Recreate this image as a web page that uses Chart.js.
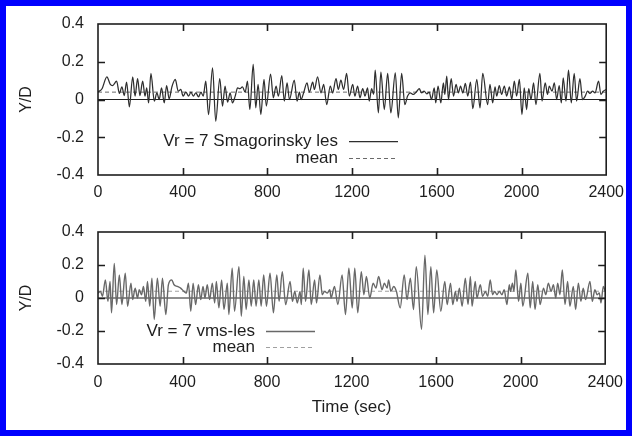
<!DOCTYPE html>
<html>
<head>
<meta charset="utf-8">
<script src="https://cdn.jsdelivr.net/npm/chart.js@4/dist/chart.umd.min.js"></script>
<style>
  html, body { margin: 0; padding: 0; background: #fff; }
  #frame { position: absolute; left: 0; top: 0; width: 632px; height: 436px;
           box-sizing: border-box; border: 6px solid #0000ff; background: #fff; }
  canvas { position: absolute; left: 0; }
</style>
</head>
<body>
<div id="frame"></div>
<canvas id="lesChart" width="632" height="205" style="top:0"></canvas>
<canvas id="vmsChart" width="632" height="231" style="top:205px"></canvas>
<script>
// Cross-flow displacement Y/D of the cylinder, Vr = 7, Smagorinsky LES
const timeLes = [0,19,42,58,69,88,101,113,124,135,148,164,175,187,198,211,222,230,239,250,266,278,289,300,313,324,336,349,365,379,391,402,415,428,439,450,462,475,486,497,509,522,541,556,575,588,600,612,624,635,648,659,670,682,695,706,717,733,745,756,769,784,795,815,828,841,852,868,880,893,904,927,940,951,959,971,987,998,1014,1022,1037,1053,1066,1080,1097,1108,1124,1135,1147,1160,1174,1187,1203,1213,1226,1237,1250,1261,1273,1281,1292,1302,1309,1324,1336,1352,1368,1383,1404,1418,1434,1449,1462,1474,1490,1506,1517,1528,1540,1553,1564,1575,1588,1595,1606,1619,1631,1638,1647,1655,1668,1679,1691,1702,1712,1723,1735,1746,1759,1770,1789,1804,1817,1840,1851,1864,1875,1883,1895,1906,1919,1930,1943,1954,1966,1977,1990,2002,2013,2024,2034,2045,2057,2068,2087,2097,2112,2123,2131,2144,2155,2166,2178,2188,2197,2210,2222,2235,2249,2260,2276,2288,2301,2312,2323,2336,2347,2364,2375,2386,2400];
const yLes = [0.04,0.057,0.120,0.080,0.074,0.097,0.032,0.067,0.021,0.092,-0.039,0.120,0.018,0.110,0.021,0.097,0.018,0.062,-0.018,0.138,-0.009,0.035,0.000,0.062,-0.018,0.074,0.004,0.067,0.106,0.044,0.053,0.018,0.039,0.018,0.039,0.018,0.035,0.014,0.039,0.018,0.097,-0.080,0.168,-0.115,0.110,-0.035,0.071,-0.014,0.035,-0.018,0.018,0.062,0.057,0.067,0.039,0.097,-0.053,0.186,-0.044,0.080,-0.080,0.106,-0.035,0.135,0.009,0.071,0.018,0.127,-0.009,0.088,0.000,0.102,-0.009,0.039,0.000,0.035,0.088,0.039,0.092,0.053,0.120,0.035,0.080,-0.027,0.071,0.035,0.110,0.053,0.102,0.053,0.138,0.018,0.080,0.018,0.071,0.009,0.057,0.018,0.062,-0.009,0.057,0.027,0.155,-0.071,0.145,-0.053,0.138,-0.071,0.141,-0.097,0.138,-0.027,0.018,0.035,0.027,0.044,0.057,0.035,0.044,0.030,0.039,0.000,0.062,-0.018,0.071,-0.018,0.088,0.027,0.124,0.000,0.110,0.018,0.080,0.035,0.071,0.035,0.085,0.018,0.092,-0.049,0.106,-0.044,0.138,-0.027,0.080,-0.018,0.067,0.018,0.074,0.027,0.071,0.018,0.067,0.000,0.097,0.018,0.106,-0.080,0.062,-0.053,0.057,0.000,0.088,-0.027,0.138,-0.009,0.088,0.027,0.071,0.044,0.088,0.000,0.074,-0.018,0.115,-0.009,0.155,-0.018,0.138,-0.009,0.110,0.000,0.018,0.044,0.032,0.044,0.035,0.097,0.027,0.044,0.053];
const meanLes = 0.039;

// Same quantity, Vr = 7, variational multiscale LES
const timeVms = [0,12,21,35,47,57,64,77,88,101,113,129,140,156,164,176,187,195,206,215,226,234,245,255,266,281,294,305,321,333,349,360,376,391,407,418,428,439,450,462,475,486,497,506,517,528,541,552,560,572,585,596,612,619,635,646,667,678,690,701,714,725,737,748,761,772,784,797,814,830,846,857,872,888,909,920,931,943,956,962,971,982,998,1009,1025,1034,1050,1061,1072,1085,1097,1103,1119,1135,1155,1171,1187,1203,1215,1229,1246,1258,1270,1286,1302,1315,1328,1344,1355,1368,1375,1386,1399,1412,1430,1449,1462,1478,1493,1506,1531,1547,1561,1575,1588,1603,1622,1641,1652,1668,1679,1691,1699,1710,1723,1738,1751,1762,1770,1785,1793,1809,1820,1833,1844,1856,1867,1877,1888,1899,1911,1922,1935,1946,1952,1961,1968,1977,1990,2001,2010,2034,2045,2057,2068,2081,2092,2108,2119,2131,2144,2155,2166,2175,2186,2197,2210,2222,2233,2249,2260,2273,2285,2296,2307,2328,2339,2351,2362,2372,2380,2391,2400];
const yVms = [0.03,0.04,0.01,0.11,-0.02,0.10,-0.09,0.21,-0.04,0.14,-0.04,0.15,-0.05,0.09,-0.01,0.06,0.00,0.05,0.02,0.07,-0.02,0.10,-0.05,0.12,-0.13,0.12,-0.05,0.12,-0.10,0.08,0.11,0.08,0.07,0.06,0.04,0.03,0.09,-0.08,0.09,-0.04,0.08,-0.01,0.07,0.00,0.08,-0.01,0.09,-0.03,0.10,-0.06,0.11,-0.07,0.09,-0.10,0.18,-0.08,0.19,-0.11,0.13,-0.07,0.11,-0.05,0.11,-0.05,0.11,-0.05,0.14,-0.05,0.15,-0.09,0.14,-0.02,0.16,-0.04,0.10,-0.02,0.04,-0.03,0.04,-0.04,0.18,-0.02,0.17,-0.04,0.11,-0.03,0.14,0.02,0.04,0.03,0.05,0.00,0.07,-0.04,0.14,-0.10,0.18,-0.06,0.18,-0.09,0.16,0.02,0.13,0.00,0.09,0.06,0.13,0.05,0.09,0.06,0.11,0.04,0.07,0.04,-0.06,0.14,-0.01,0.12,-0.07,0.19,-0.19,0.26,-0.10,0.19,-0.09,0.17,-0.08,0.10,-0.04,0.09,-0.04,0.04,-0.02,0.06,-0.05,0.12,-0.04,0.13,-0.05,0.10,0.00,0.08,0.01,0.04,0.01,0.11,0.02,0.04,0.02,0.04,0.02,0.05,-0.04,0.08,0.04,0.09,0.04,0.17,-0.02,0.09,-0.05,0.15,-0.06,0.10,-0.07,0.08,-0.04,0.06,0.02,0.09,0.04,0.08,0.00,0.09,0.02,0.17,-0.04,0.10,-0.05,0.07,-0.07,0.09,-0.02,0.06,-0.01,0.10,-0.02,0.05,0.02,0.03,-0.03,0.07,0.04];
const meanVms = 0.041;

// Axis ticks shared by both panels
const timeTicks = [0, 400, 800, 1200, 1600, 2000, 2400];
const timeTickLabels = ['0', '400', '800', '1200', '1600', '2000', '2400'];
const ydTicks = [-0.4, -0.2, 0, 0.2, 0.4];
const ydTickLabels = ['-0.4', '-0.2', '0', '0.2', '0.4'];

const FONT = '"Liberation Sans", Arial, Helvetica, sans-serif';
const INK = '#1e1e1e';

// gnuplot-like frame: full border with inward ticks on all four sides
const framePlugin = {
  id: 'frame',
  afterDatasetsDraw(chart, args, opts) {
    const { ctx, chartArea: a, scales: { x, y } } = chart;
    ctx.save();
    ctx.strokeStyle = opts.color;
    ctx.lineWidth = opts.width;
    ctx.beginPath();
    x.ticks.forEach(t => {
      const px = Math.round(x.getPixelForValue(t.value)) + 0.5;
      if (px > a.left + 2 && px < a.right - 2) {
        ctx.moveTo(px, a.bottom); ctx.lineTo(px, a.bottom - opts.tick);
        ctx.moveTo(px, a.top); ctx.lineTo(px, a.top + opts.tick);
      }
    });
    y.ticks.forEach(t => {
      const py = Math.round(y.getPixelForValue(t.value)) + 0.5;
      if (py > a.top + 2 && py < a.bottom - 2) {
        ctx.moveTo(a.left, py); ctx.lineTo(a.left + opts.tick, py);
        ctx.moveTo(a.right, py); ctx.lineTo(a.right - opts.tick, py);
      }
    });
    ctx.stroke();
    ctx.strokeRect(a.left, a.top, a.right - a.left, a.bottom - a.top);
    ctx.restore();
  }
};

// Key drawn inside the plot: right-aligned label followed by a line sample
const keyPlugin = {
  id: 'key',
  afterDraw(chart, args, opts) {
    const ctx = chart.ctx;
    ctx.save();
    ctx.font = opts.font;
    ctx.fillStyle = INK;
    ctx.textAlign = 'right';
    ctx.textBaseline = 'middle';
    chart.data.datasets.filter(d => d.inKey).forEach((d, i) => {
      const yy = opts.top + i * opts.rowHeight;
      ctx.fillText(d.label, opts.textRight, yy);
      ctx.strokeStyle = d.borderColor;
      ctx.lineWidth = d.borderWidth;
      ctx.setLineDash(d.borderDash || []);
      ctx.beginPath();
      ctx.moveTo(opts.sampleLeft, Math.round(yy) + 0.5);
      ctx.lineTo(opts.sampleRight, Math.round(yy) + 0.5);
      ctx.stroke();
    });
    ctx.restore();
  }
};

function buildPanel(canvasId, times, values, mean, label, look) {
  const series = times.map((t, i) => ({ x: t, y: values[i] }));
  const first = timeTicks[0], last = timeTicks[timeTicks.length - 1];
  return new Chart(document.getElementById(canvasId), {
    type: 'line',
    data: {
      datasets: [
        { label: label, inKey: true, data: series,
          borderColor: look.lineColor, borderWidth: look.lineWidth, pointRadius: 0,
          cubicInterpolationMode: 'monotone', order: 1 },
        { label: 'mean', inKey: true, data: [{ x: first, y: mean }, { x: last, y: mean }],
          borderColor: look.meanColor, borderWidth: 1, borderDash: [4, 3], pointRadius: 0, order: 2 },
        { label: 'zero', data: [{ x: first, y: 0 }, { x: last, y: 0 }],
          borderColor: INK, borderWidth: 1, pointRadius: 0, order: 3 }
      ]
    },
    options: {
      responsive: false,
      animation: false,
      events: [],
      layout: { padding: { left: 0, top: look.padTop, right: 25, bottom: 0 } },
      scales: {
        x: {
          type: 'linear', min: first, max: last,
          afterBuildTicks: s => { s.ticks = timeTicks.map(v => ({ value: v })); },
          afterFit: s => { s.height = look.xAxisHeight; },
          grid: { display: false, drawTicks: false },
          border: { display: false },
          ticks: { padding: look.xTickPad, color: INK, font: { family: FONT, size: 16 },
                   maxRotation: 0, autoSkip: false,
                   callback: (v, i) => timeTickLabels[i] },
          title: look.xTitle ? { display: true, text: look.xTitle, color: INK,
                   font: { family: FONT, size: 17 }, padding: { top: 0, bottom: look.xTitlePad } }
                 : { display: false }
        },
        y: {
          min: ydTicks[0], max: ydTicks[ydTicks.length - 1],
          afterBuildTicks: s => { s.ticks = ydTicks.map(v => ({ value: v })); },
          afterFit: s => { s.width = 98; },
          grid: { display: false, drawTicks: false },
          border: { display: false },
          ticks: { padding: 14, color: INK, font: { family: FONT, size: 16 },
                   callback: (v, i) => ydTickLabels[i] },
          title: { display: true, text: 'Y/D', color: INK, font: { family: FONT, size: 16 },
                   padding: { top: 17, bottom: 0 } }
        }
      },
      plugins: {
        legend: { display: false },
        tooltip: { enabled: false },
        frame: { color: INK, width: 1.6, tick: 7 },
        key: look.key
      }
    },
    plugins: [framePlugin, keyPlugin]
  });
}

buildPanel('lesChart', timeLes, yLes, meanLes, 'Vr = 7 Smagorinsky les', {
  lineColor: '#2e2e2e', lineWidth: 1.25, meanColor: '#6a6a6a',
  padTop: 24, xAxisHeight: 30, xTickPad: 8,
  key: { font: '17px ' + FONT, top: 141, rowHeight: 17, textRight: 338, sampleLeft: 349, sampleRight: 398 }
});

buildPanel('vmsChart', timeVms, yVms, meanVms, 'Vr = 7 vms-les', {
  lineColor: '#686868', lineWidth: 1.4, meanColor: '#a0a0a0',
  padTop: 27, xAxisHeight: 72, xTickPad: 9,
  xTitle: 'Time (sec)', xTitlePad: 18,
  key: { font: '17px ' + FONT, top: 126, rowHeight: 16, textRight: 255, sampleLeft: 266, sampleRight: 315 }
});
</script>
</body>
</html>
